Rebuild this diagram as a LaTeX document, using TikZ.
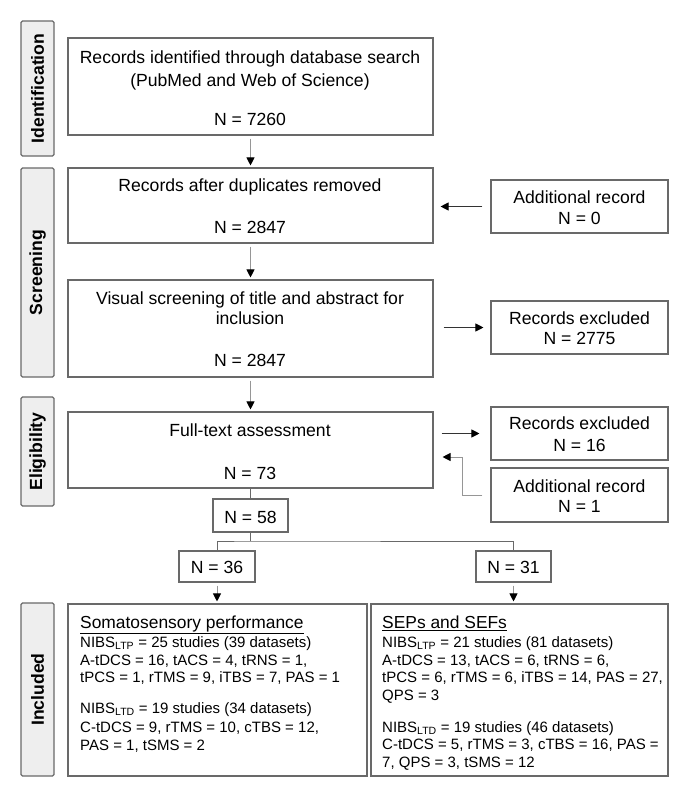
\documentclass[tikz,border=0pt]{standalone}
\usepackage{fontspec}
\setmainfont{Liberation Sans}
\usetikzlibrary{arrows.meta}
\definecolor{edge}{RGB}{105,105,105}
\definecolor{lab}{RGB}{238,238,238}
\definecolor{arr}{RGB}{150,150,150}
\newcommand\mkbox[6]{\node[#6, minimum width={#4-#2}, minimum height={#5-#3}] (#1) at ({(#2+#4)/2},{(#3+#5)/2}) {};}
\newcommand\tx[4]{\node[txt] (#1) at (#2,{#3+6.3}) {#4};}
\newcommand\sx[4]{\node[stxt] (#1) at (#2,{#3+5.4}) {#4};}
\newcommand\hx[4]{\node[htxt] (#1) at (#2,{#3+6.3}) {\underline{#4}};}
\begin{document}
\begin{tikzpicture}[x=1pt,y=-1pt,
  box/.style={draw=edge, line width=1.1pt, inner sep=0pt, fill=white},
  labbox/.style={draw=edge, line width=1.1pt, inner sep=0pt, fill=lab, rounded corners=1.5pt},
  labtxt/.style={rotate=90, font=\fontsize{17.6}{21}\selectfont\bfseries, inner sep=0pt},
  txt/.style={anchor=base, inner sep=0pt, font=\fontsize{17.6}{21}\selectfont},
  stxt/.style={anchor=base west, inner sep=0pt, font=\fontsize{15}{18}\selectfont},
  htxt/.style={anchor=base west, inner sep=0pt, font=\fontsize{17.4}{21}\selectfont},
  varrow/.style={draw=arr, line width=0.9pt, -{Triangle[color=black,width=8pt,length=8pt]}, shorten <=3pt, shorten >=2pt},
  harrow/.style={draw=black!80, line width=1pt, -{Triangle[color=black,width=8pt,length=8pt]}},
  plain/.style={draw=edge, line width=1pt}]
\useasboundingbox (0,0) rectangle (686,798);
\fill[white] (0,0) rectangle (686,798);
% stage labels
\mkbox{lid}{21}{21}{54}{156}{labbox}
\mkbox{lsc}{21}{168}{54}{377}{labbox}
\mkbox{lel}{21}{397}{54}{506}{labbox}
\mkbox{lin}{21}{603}{54}{776}{labbox}
\node[labtxt] (tid) at (lid) {Identification};
\node[labtxt] (tsc) at (lsc) {Screening};
\node[labtxt] (tel) at (lel) {Eligibility};
\node[labtxt] (tin) at (lin) {Included};
% main boxes
\mkbox{b1}{68}{38}{433}{135}{box}
\mkbox{b2}{68}{168}{433}{243}{box}
\mkbox{b3}{68}{280}{433}{377}{box}
\mkbox{b4}{68}{412}{433}{488}{box}
\mkbox{r1}{491}{180}{668}{233}{box}
\mkbox{r2}{491}{301}{668}{354}{box}
\mkbox{r3}{491}{407}{668}{460}{box}
\mkbox{r4}{491}{468}{668}{522}{box}
\mkbox{n58}{213}{499}{288}{532}{box}
\mkbox{n36}{179}{551}{255}{582}{box}
\mkbox{n31}{476}{551}{551}{582}{box}
\mkbox{inc1}{68}{604}{367}{776}{box}
\mkbox{inc2}{371}{604}{668}{776}{box}
% texts
\tx{t11}{250}{57}{Records identified through database search}
\tx{t12}{250}{80}{(PubMed and Web of Science)}
\tx{t13}{250}{119}{N = 7260}
\tx{t21}{250}{185}{Records after duplicates removed}
\tx{t22}{250}{227}{N = 2847}
\tx{t31}{250}{298}{Visual screening of title and abstract for}
\tx{t32}{250}{318}{inclusion}
\tx{t33}{250}{360}{N = 2847}
\tx{t41}{250}{430}{Full-text assessment}
\tx{t42}{250}{473}{N = 73}
\tx{tr11}{579.5}{197}{Additional record}
\tx{tr12}{579.5}{218}{N = 0}
\tx{tr21}{579.5}{318}{Records excluded}
\tx{tr22}{579.5}{338}{N = 2775}
\tx{tr31}{579.5}{423}{Records excluded}
\tx{tr32}{579.5}{445}{N = 16}
\tx{tr41}{579.5}{486}{Additional record}
\tx{tr42}{579.5}{506}{N = 1}
\tx{tn58}{250.5}{517}{N = 58}
\tx{tn36}{217}{567}{N = 36}
\tx{tn31}{513.5}{567}{N = 31}
% bottom left
\hx{l1}{80}{622}{Somatosensory performance}
\sx{l2}{80}{642}{NIBS\textsubscript{LTP} = 25 studies (39 datasets)}
\sx{l3}{80}{660}{A-tDCS = 16, tACS = 4, tRNS = 1,}
\sx{l4}{80}{677}{tPCS = 1, rTMS = 9, iTBS = 7, PAS = 1}
\sx{l5}{80}{708}{NIBS\textsubscript{LTD} = 19 studies (34 datasets)}
\sx{l6}{80}{727}{C-tDCS = 9, rTMS = 10, cTBS = 12,}
\sx{l7}{80}{745}{PAS = 1, tSMS = 2}
% bottom right
\hx{m1}{382}{622}{SEPs and SEFs}
\sx{m2}{382}{642}{NIBS\textsubscript{LTP} = 21 studies (81 datasets)}
\sx{m3}{382}{660}{A-tDCS = 13, tACS = 6, tRNS = 6,}
\sx{m4}{382}{677}{tPCS = 6, rTMS = 6, iTBS = 14, PAS = 27,}
\sx{m5}{382}{695}{QPS = 3}
\sx{m6}{382}{727}{NIBS\textsubscript{LTD} = 19 studies (46 datasets)}
\sx{m7}{382}{744}{C-tDCS = 5, rTMS = 3, cTBS = 16, PAS =}
\sx{m8}{382}{762}{7, QPS = 3, tSMS = 12}
% connectors
\draw[varrow] (b1) -- (b2);
\draw[varrow] (b2) -- (b3);
\draw[varrow] (b3) -- (b4);
\draw[harrow, shorten <=8pt, shorten >=7pt] (r1.west) -- (r1.west -| b2.east);
\draw[harrow, shorten <=10pt, shorten >=7pt] (r2.west -| b3.east) -- (r2.west);
\draw[harrow, shorten <=8pt, shorten >=11pt] (r3.west -| b4.east) -- (r3.west);
\coordinate (e1) at (462,457);
\draw[draw=arr, line width=1pt, -{Triangle[color=black,width=8pt,length=8pt]}] ([xshift=-8pt]r4.west) -| (e1) -- ([xshift=9pt]b4.east |- e1);
\draw[plain] (b4) -- (n58);
\coordinate (sp) at (250.5,541);
\draw[plain] (n58) -- (sp);
\draw[plain] (n36.north) |- (sp) -| (n31.north);
\draw[varrow] (n36) -- (n36 |- inc1.north);
\draw[varrow] (n31) -- (n31 |- inc2.north);
\end{tikzpicture}
\end{document}
